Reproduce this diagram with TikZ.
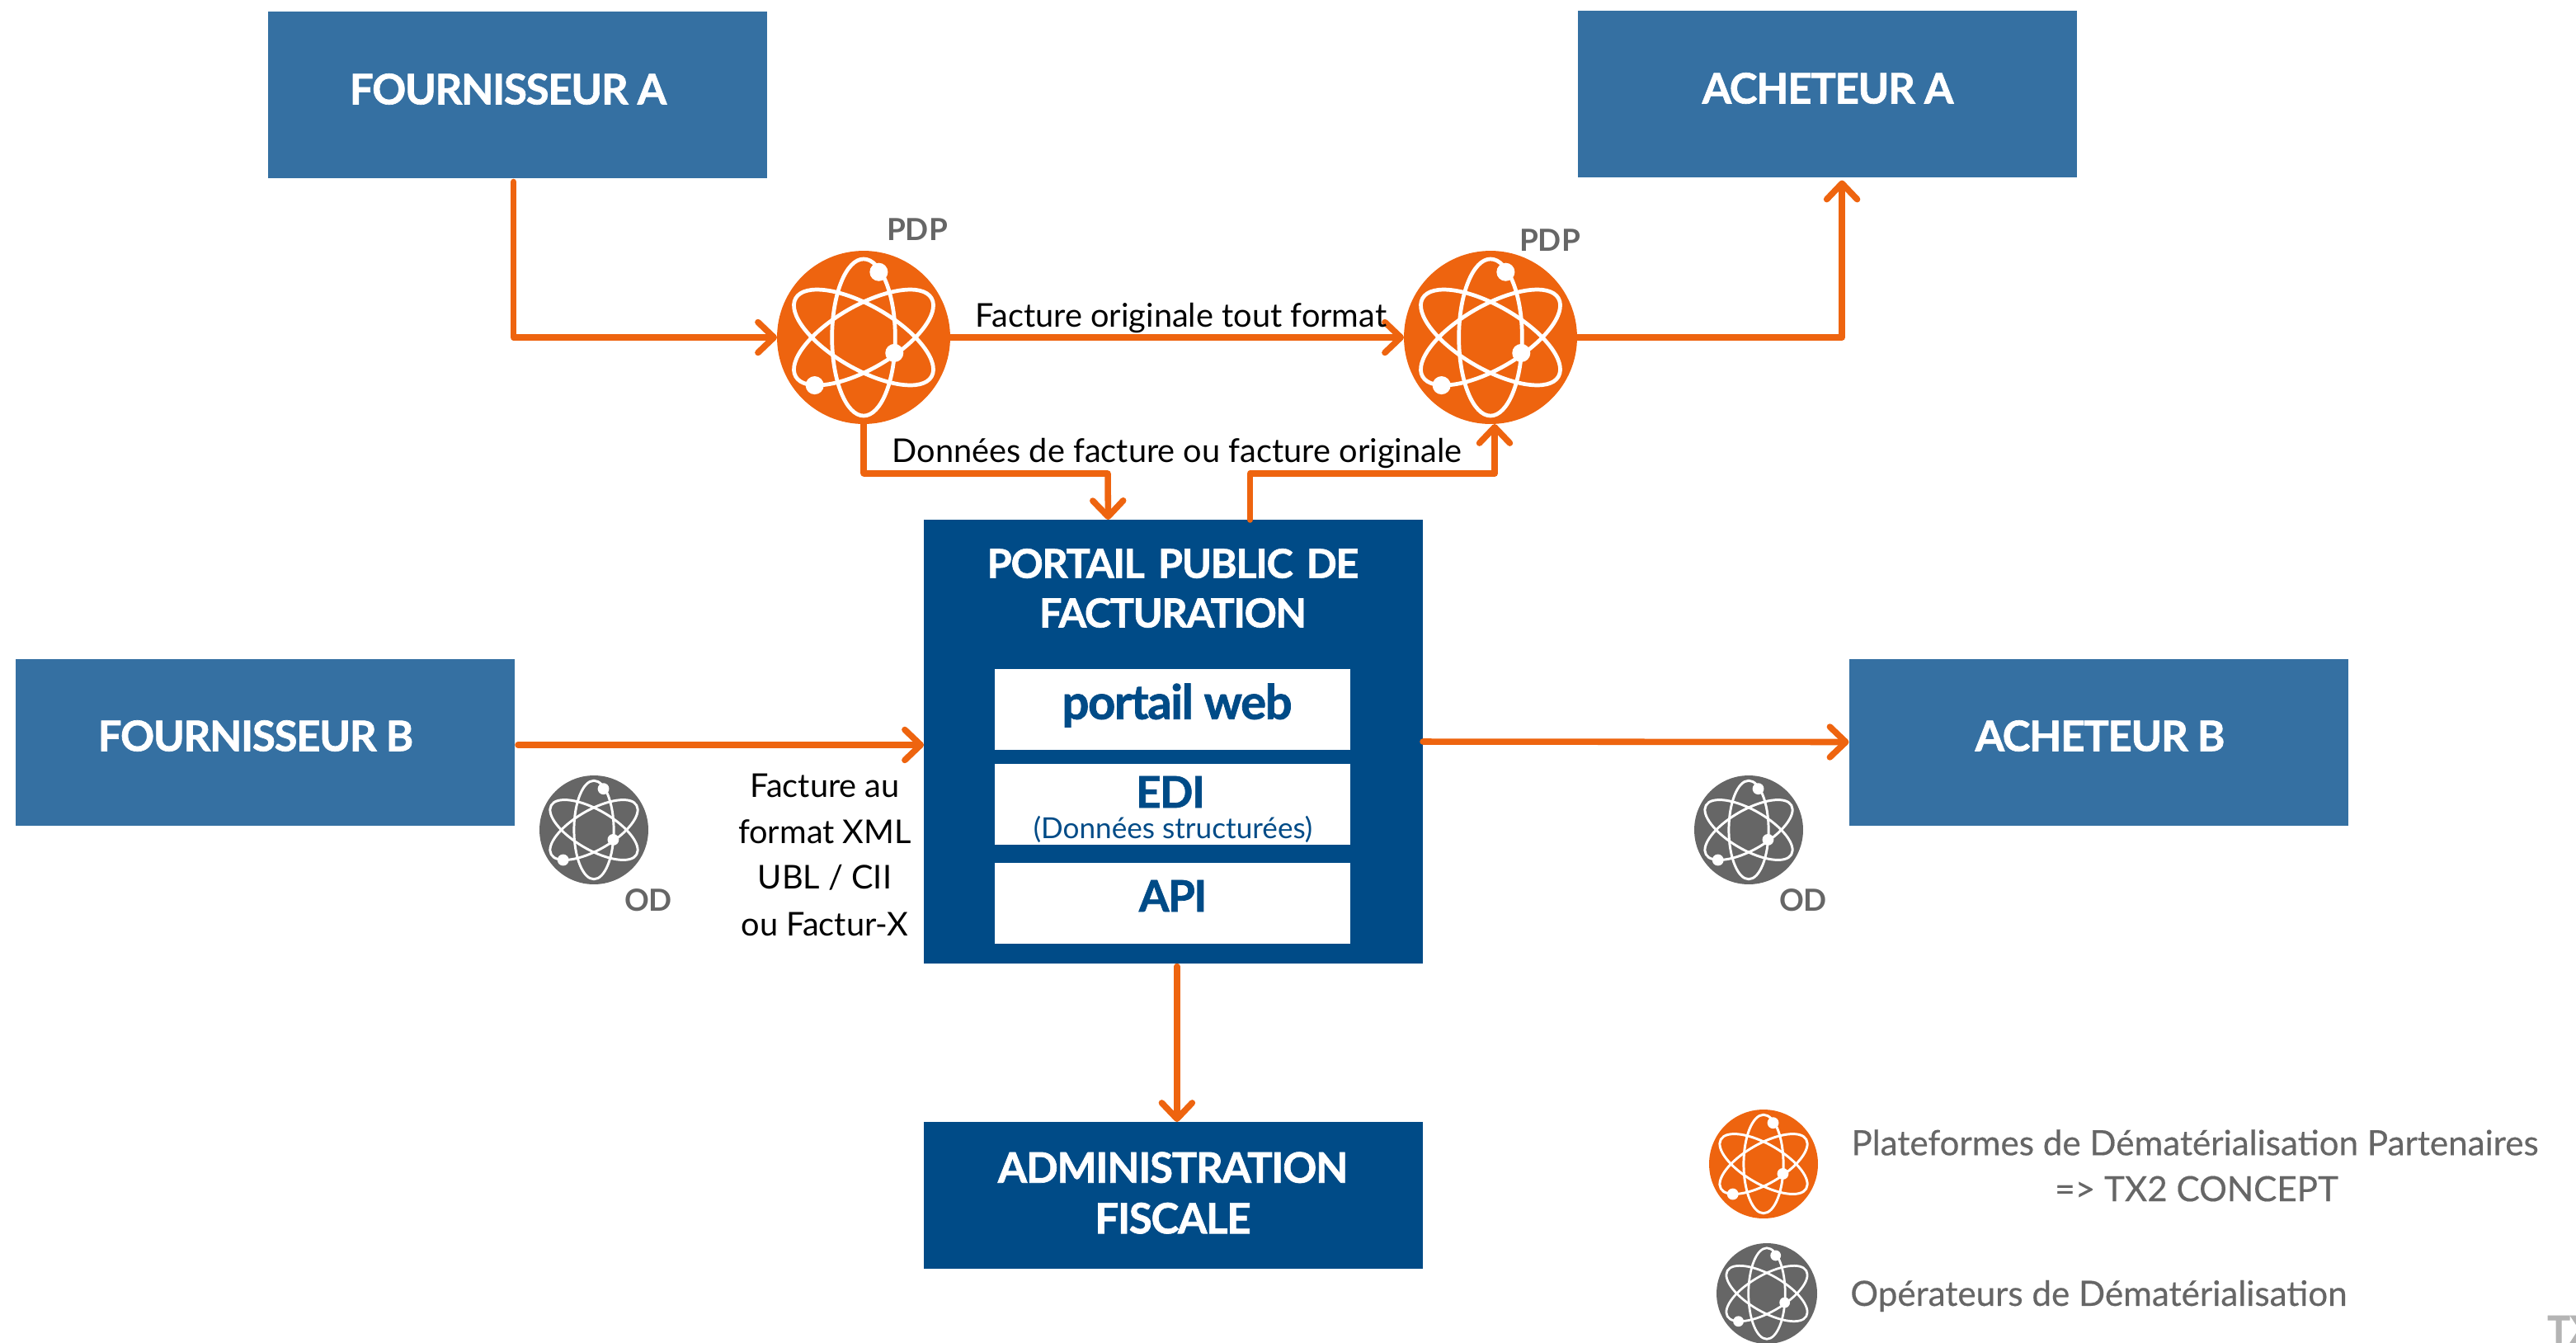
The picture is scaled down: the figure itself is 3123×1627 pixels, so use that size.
\documentclass[tikz,border=0pt]{standalone}
\usepackage{fontspec}
\setmainfont{Lato}
\newfontfamily\headfont[BoldFont={Lato Bold},BoldFeatures={FakeBold=1.3,LetterSpace=-2.5}]{Lato}
\newfontfamily\medfont[FakeBold=0.35]{Lato}
\newfontfamily\markfont[BoldFont={Lato Bold},BoldFeatures={FakeBold=2}]{Lato}
\usetikzlibrary{arrows.meta,calc}
\definecolor{orangeC}{HTML}{EE640F}
\definecolor{midblue}{HTML}{3570A2}
\definecolor{darkblue}{HTML}{004B87}
\definecolor{greyC}{HTML}{666666}
\definecolor{markC}{HTML}{B4B4B4}
\newcommand{\pxfont}[1]{\fontsize{#1}{#1}\selectfont}
\tikzset{
  x=0.02cm,y=-0.02cm,
  actorbox/.style={fill=midblue,draw=none,inner sep=0,outer sep=0,minimum width=0.02cm*605,minimum height=0.02cm*202},
  darkbox/.style={fill=darkblue,draw=none,inner sep=0,outer sep=0},
  whitebox/.style={fill=white,draw=none,inner sep=0,outer sep=0,minimum width=0.02cm*431},
  head/.style={text=white,font=\headfont\bfseries\pxfont{29},align=center,inner sep=0},
  inhead/.style={text=darkblue,font=\headfont\bfseries\pxfont{30},align=center,inner sep=0},
  body/.style={text=black,font=\pxfont{22.6},align=center,inner sep=0},
  greytxt/.style={text=greyC,font=\medfont\pxfont{24},align=center,inner sep=0},
  tagtxt/.style={text=greyC,font=\bfseries\pxfont{21},inner sep=0},
  conn/.style={draw=orangeC,line width=4.3pt,line cap=round,line join=round,
     -{Straight Barb[length=11pt,width=21pt,line width=4.3pt,round]}},
}
% #1 name, #2 x, #3 y, #4 radius(px), #5 colour
\newcommand{\atomnode}[5]{%
  \node[circle,fill=#5,draw=none,inner sep=0,outer sep=0,minimum size=0.04cm*#4] (#1) at (#2,#3) {};
  \begin{scope}[shift={(#2,#3)}]
    \pgfmathsetlengthmacro{\lw}{0.02cm*#4*0.045}
    \foreach \ang in {0,60,-60}
      \draw[white,line width=\lw,rotate=\ang] (0,0) ellipse [x radius=#4*0.365,y radius=#4*0.905];
    \foreach \ex/\ey in {0.175/-0.755,0.355/0.18,-0.565/0.553}
      \fill[white] (\ex*#4,\ey*#4) circle [radius=#4*0.105];
  \end{scope}
}
\begin{document}
\begin{tikzpicture}
\path[use as bounding box] (0,0) rectangle (3123,1627);
\clip (0,0) rectangle (3123,1627);
\fill[white] (0,0) rectangle (3123,1627);

% boxes
\node[actorbox] (fa) at (627.5,114.5) {};
\node[actorbox] (aa) at (2215.5,114) {};
\node[actorbox] (fb) at (321.5,899.5) {};
\node[actorbox] (ab) at (2544,899.5) {};
\node[darkbox,minimum width=0.02cm*605,minimum height=0.02cm*538] (portal) at (1422.5,899) {};
\node[darkbox,minimum width=0.02cm*605,minimum height=0.02cm*178] (admin) at (1422.5,1449) {};
\node[whitebox,minimum height=0.02cm*98] (web) at (1421.5,860) {};
\node[whitebox,minimum height=0.02cm*98] (edi) at (1421.5,975) {};
\node[whitebox,minimum height=0.02cm*98] (api) at (1421.5,1095) {};

% atoms
\atomnode{pdpa}{1047}{409}{105}{orangeC}
\atomnode{pdpb}{1807}{409}{105}{orangeC}
\atomnode{oda}{720}{1006}{66}{greyC}
\atomnode{odb}{2120}{1006}{66}{greyC}
\atomnode{legp}{2138}{1411}{66}{orangeC}
\atomnode{lego}{2142}{1568}{61}{greyC}

% connectors
\draw[conn] ([xshift=-2.8pt]fa.south) ++(0,5) |- (pdpa.west);
\draw[conn] (pdpa.east) -- (pdpb.west);
\draw[conn] (pdpb.east) -| ([xshift=10pt,yshift=-2pt]aa.south);
\draw[conn] (pdpa.south) |- (1343,574) -- ([xshift=-45pt]portal.north);
\draw[conn] ([xshift=53pt]portal.north) |- (1812,574) -- (1812,514);
\draw[conn] (628,903) -- (1120,903);
\draw[conn] (portal.east) -- (ab.west);
\draw[conn] ([xshift=2.5pt,yshift=-2pt]portal.south) -- ([xshift=2.5pt]admin.north);

% labels
\node[head] (tfa) at (616,108) {FOURNISSEUR A};
\node[head] (taa) at (2216,107) {ACHETEUR A};
\node[head] (tfb) at (310,892) {FOURNISSEUR B};
\node[head] (tab) at (2546,892) {ACHETEUR B};
\node[head,font=\headfont\bfseries\pxfont{27.6},text width=0.02cm*600] (tportal) at (1422,713) {PORTAIL PUBLIC DE\\[6.5pt]FACTURATION};
\node[head,font=\headfont\bfseries\pxfont{29},text width=0.02cm*600] (tadmin) at (1422,1446) {ADMINISTRATION\\[6pt]FISCALE};
\node[inhead,font=\headfont\bfseries\pxfont{33}] (tweb) at (1427,855) {portail web};
\node[inhead] (tedi) at (1419,960) {EDI};
\node[text=darkblue,font=\pxfont{20},inner sep=0] (tedis) at (1422,1005) {(Données structurées)};
\node[inhead] (tapi) at (1422,1086) {API};
\node[tagtxt] (lp1) at (1112,278) {PDP};
\node[tagtxt] (lp2) at (1879,291) {PDP};
\node[tagtxt] (lo1) at (786,1091) {OD};
\node[tagtxt] (lo2) at (2186,1091) {OD};
\node[body] (l1) at (1432,385) {Facture originale tout format};
\node[body] (l2) at (1427,549) {Données de facture ou facture originale};
\node[body] (l3a) at (1000,952) {Facture au};
\node[body] (l3b) at (1000,1008) {format XML};
\node[body] (l3c) at (1000,1064) {UBL / CII};
\node[body] (l3d) at (1000,1120) {ou Factur-X};
\node[greytxt] (lg1) at (2661,1385) {Plateformes de Dématérialisation Partenaires};
\node[greytxt] (lg2) at (2663,1441) {=> TX2 CONCEPT};
\node[greytxt,anchor=west] (lg3) at (2243,1571) {Opérateurs de Dématérialisation};
\node[text=markC,font=\markfont\bfseries\pxfont{26},inner sep=0,anchor=base west] (mark) at (3088,1628) {TX};
\end{tikzpicture}
\end{document}
